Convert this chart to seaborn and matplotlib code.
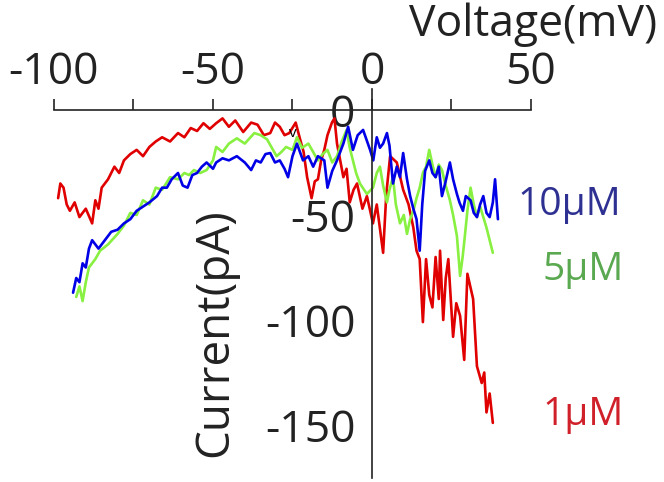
import pandas as pd
import seaborn as sns
import matplotlib.pyplot as plt
from matplotlib.ticker import MultipleLocator

# tracce I-V (mV, pA)
v_1uM = [-98.7, -98, -97, -96, -95, -93.5, -92, -90, -88, -87, -86, -85, -83, -81, -79.5, -78, -76,
         -74, -72, -70, -68, -66, -63.5, -61, -59, -57, -55, -53, -51, -49, -47, -45, -43, -40.5, -38,
         -36, -34, -32, -30.5, -29, -27.5, -26, -24, -22.6, -21.5, -20.4, -19, -18, -17, -16, -15,
         -14, -12.6, -11.8, -11, -9, -8, -7, -5.8, -4.7, -3, -1.6, 0.3, 1.5, 3.5, 4.5, 5.7, 7.8, 9.8,
         11.5, 13, 14, 15, 16, 17, 18, 19, 20, 21, 21.4, 22.4, 23.2, 24, 25.5, 26.5, 27.7, 29, 30,
         31.8, 33, 34.5, 35.3, 36, 37, 38]
i_1uM = [-42, -35, -37, -45, -48, -44, -51, -47, -54, -43, -47, -37, -33, -27, -30, -24, -21,
         -19, -22, -17.6, -15, -13, -15, -11, -13, -8.6, -10, -6.3, -9, -6.3, -4, -8, -5, -10.5, -6,
         -7, -12, -11, -6, -8, -12, -11, -6, -14, -20, -32, -42, -34, -33, -24, -19,
         -12, -6, -4, -16, -32, -28, -44, -38, -35, -47, -41, -54, -45, -68, -40, -22, -25, -38,
         -45, -56, -67, -71, -101, -71, -88, -94, -70, -90, -67, -100, -80, -71, -108, -92, -98, -119, -78,
         -90, -122, -130, -125, -144, -135, -149]

v_5uM = [-93, -92, -91, -90, -89, -87, -85.5, -83, -80, -78, -76, -74, -72, -70, -68, -66, -63.5,
         -61, -59, -57.5, -56, -54, -52, -50, -49, -47, -45, -42.5, -40, -37, -35, -33, -31.5, -30,
         -28.5, -27, -25, -23.6, -22, -20, -18.5, -17, -15.5, -14, -12.5, -11, -9.5, -8, -7, -6, -5,
         -3.8, -1.6, 0.3, 1.5, 2.5, 3.5, 4.7, 5.5, 6.6, 7.5, 8.8, 10, 11, 12, 13, 14, 15, 16, 17, 18,
         19, 20, 21, 22, 23, 24.5, 25.5, 26.7, 27.7, 28.5, 29, 30, 31, 32, 33, 34, 35, 36, 37, 38]
i_5uM = [-89, -84, -91, -82, -75, -71, -67, -64, -59, -55, -49, -50, -43, -45, -37, -38, -32,
         -33, -30, -31, -28.6, -30, -28.6, -24, -17.6, -20, -16, -13.5, -16, -11, -12, -14, -18, -22,
         -20, -17.6, -19, -13, -18, -16, -20, -24, -21, -19, -25, -22, -15, -9.5, -18, -24, -30,
         -35, -40, -37, -30, -27, -36, -44, -38, -32, -45, -54, -50, -59, -52, -48, -42, -37, -30, -27, -19,
         -26, -32, -26, -28.6, -35, -43, -50, -60, -79, -70, -63, -48, -37, -45, -51, -46, -51, -56, -62, -68]

v_10uM = [-94, -93, -92, -91, -90, -89, -88, -86, -84.5, -82, -80, -78, -76, -74, -72, -70, -67.6,
          -66, -64.5, -63, -61, -59.5, -58, -56.5, -55, -53.5, -52, -50, -49, -47, -45, -42.5, -40,
          -38, -36.5, -35, -33.5, -32, -30.5, -29, -27.5, -26.4, -25, -23.6, -21.7, -20, -18.5, -17,
          -15, -14, -12.5, -11, -10, -9, -7.5, -6, -4.5, -2.8, -0.6, 0.4, 1.5, 2.5, 3.5, 4.7, 5.5, 6.6,
          7.8, 8.8, 9.8, 11, 12, 13, 14, 15, 15.8, 16.7, 18, 19, 20, 21, 22, 23, 24.5, 25.5, 26.7, 27.5,
          28.6, 29.5, 31, 32, 33, 34, 35, 36, 37, 38, 38.7, 39.6]
i_10uM = [-87, -80, -82, -73, -75, -66, -62, -66, -63, -58, -57, -54, -52, -48, -46, -44, -41,
          -37, -37, -33, -30, -36, -37, -31, -30, -27, -25, -28, -25, -23, -24, -22, -25,
          -28.6, -24, -25, -21, -20.5, -25, -24, -28, -32, -22, -16, -24, -22, -27, -22,
          -24, -37, -29, -24, -20, -16, -8, -19, -12, -9.5, -19, -24, -13, -18, -16, -11, -17, -35,
          -27, -32, -20.5, -33, -41, -47, -52, -67, -45, -29, -24, -30, -32, -27, -41, -35, -25, -33, -40, -44,
          -48, -41, -43, -49, -51, -45, -41, -49, -51, -44, -33, -52]

labels = ["1\u03bcM", "5\u03bcM", "10\u03bcM"]
line_colors = ["#e00000", "#88f040", "#0000e6"]
text_colors = ["#d0202a", "#5aa850", "#2e3192"]


def main():
    df = pd.concat([
        pd.DataFrame({"Voltage": v_1uM, "Current": i_1uM, "conc": labels[0]}),
        pd.DataFrame({"Voltage": v_5uM, "Current": i_5uM, "conc": labels[1]}),
        pd.DataFrame({"Voltage": v_10uM, "Current": i_10uM, "conc": labels[2]}),
    ], ignore_index=True)

    sns.set_style("white")
    plt.rcParams['font.family'] = ['Open Sans', 'DejaVu Sans']
    plt.rcParams['axes.unicode_minus'] = False

    fig = plt.figure(figsize=(6.64, 4.82), dpi=100)
    ax = fig.add_axes([0.0813, 0.0093, 0.7184, 0.8061])

    sns.lineplot(data=df, x="Voltage", y="Current", hue="conc", palette=line_colors,
                 estimator=None, sort=False, linewidth=1.9, legend=False, ax=ax)

    ax.set_xlim(-100, 50)
    ax.set_ylim(-175, 10)

    # assi che si incrociano nell'origine
    ax.spines['top'].set_position(('data', 0))
    ax.spines['left'].set_position(('data', 0))
    ax.spines['right'].set_visible(False)
    ax.spines['bottom'].set_visible(False)
    for s in ['top', 'left']:
        ax.spines[s].set_color('#222222')
        ax.spines[s].set_linewidth(1.2)

    ax.xaxis.tick_top()
    ax.set_xticks([-100, -50, 0, 50])
    ax.xaxis.set_minor_locator(MultipleLocator(25))
    ax.set_yticks([0, -50, -100, -150])
    ax.set_yticks([-25, -75, -125, -175], minor=True)
    ax.tick_params(axis='both', which='both', direction='out', length=8, width=1.2,
                   color='#222222', labelsize=32, labelcolor='#222222')
    ax.tick_params(axis='x', pad=3)
    ax.tick_params(axis='y', pad=4)
    ax.set_xlabel("")
    ax.set_ylabel("")

    fig.text(0.99, 0.925, "Voltage(mV)", ha='right', va='baseline', fontsize=32, color='#222222')
    fig.text(0.324, 0.31, "Current(pA)", ha='center', va='center', rotation=90,
             fontsize=33, color='#222222')
    ax.text(-24.8, -11, "v", ha='center', va='center', fontsize=11, color='black')

    pos = [(0.878, 0.139), (0.878, 0.44), (0.858, 0.575)]
    for lab, col, (px, py) in zip(labels, text_colors, pos):
        fig.text(px, py, lab, ha='center', va='center', fontsize=28, color=col)

    plt.savefig("out.png", dpi=100)
    plt.close()


if __name__ == "__main__":
    main()
